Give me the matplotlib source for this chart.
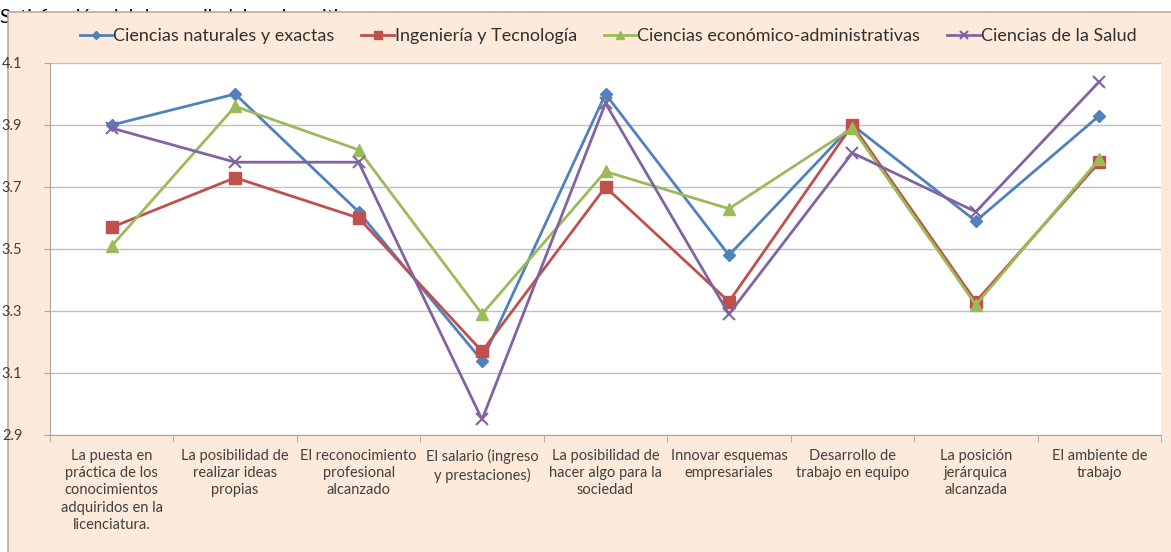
import numpy as np
import matplotlib
matplotlib.use("Agg")
import matplotlib.pyplot as plt
from matplotlib.patches import Rectangle

plt.rcParams['font.family'] = ['Lato', 'DejaVu Sans']

categories = ['La puesta en\npráctica de los\nconocimientos\nadquiridos en la\nlicenciatura.',
              'La posibilidad de\nrealizar ideas\npropias',
              'El reconocimiento\nprofesional\nalcanzado',
              'El salario (ingreso\ny prestaciones)',
              'La posibilidad de\nhacer algo para la\nsociedad',
              'Innovar esquemas\nempresariales',
              'Desarrollo de\ntrabajo en equipo',
              'La posición\njerárquica\nalcanzada',
              'El ambiente de\ntrabajo']
naturales = [3.90, 4.00, 3.62, 3.14, 4.00, 3.48, 3.90, 3.59, 3.93]
ingenieria = [3.57, 3.73, 3.60, 3.17, 3.70, 3.33, 3.90, 3.33, 3.78]
economico = [3.51, 3.96, 3.82, 3.29, 3.75, 3.63, 3.89, 3.32, 3.79]
salud = [3.89, 3.78, 3.78, 2.95, 3.97, 3.29, 3.81, 3.62, 4.04]
yticks = [2.9, 3.1, 3.3, 3.5, 3.7, 3.9, 4.1]

W, H = 1171, 552
fig = plt.figure(figsize=(W / 100, H / 100), dpi=100)
fig.patch.set_facecolor('white')

# text of the page behind the chart, mostly hidden
fig.text(0, 1 - 23 / H, 'Satisfacción del desarrollo laboral positivo', fontsize=14,
         color='black', va='baseline', ha='left', zorder=0)
# chart area
fig.patches.append(Rectangle((8 / W, -0.01), 1.0, (H - 12) / H + 0.01, transform=fig.transFigure,
                             facecolor='#FDEADA', edgecolor='#BFA898', lw=1.2, zorder=1))

ax = fig.add_axes([50 / W, 1 - 435 / H, (1161 - 50) / W, (435 - 63) / H])
ax.set_zorder(2)
ax.set_facecolor('white')
x = np.arange(len(categories))

ax.plot(x, naturales, color='#4F81BD', lw=2, marker='D', ms=6, label='Ciencias naturales y exactas')
ax.plot(x, ingenieria, color='#C0504D', lw=2, marker='s', ms=8, label='Ingeniería y Tecnología')
ax.plot(x, economico, color='#9BBB59', lw=2, marker='^', ms=8, label='Ciencias económico-administrativas')
ax.plot(x, salud, color='#8064A2', lw=2, marker='x', ms=8, mew=1.5, label='Ciencias de la Salud')

ax.set_xlim(-0.5, len(categories) - 0.5)
ax.set_ylim(2.9, 4.1)
ax.set_yticks(yticks)
ax.set_yticklabels(['{:.1f}'.format(v) for v in yticks])
ax.set_xticks(x)
ax.set_xticklabels(categories, fontsize=10.5, color='#404040', va='top', linespacing=1.3)
ax.set_xticks(np.arange(len(categories) + 1) - 0.5, minor=True)
ax.tick_params(axis='x', which='major', length=0, pad=10)
ax.tick_params(axis='x', which='minor', length=5, color='#A6A6A6', direction='out')
ax.tick_params(axis='y', length=4, color='#A6A6A6', pad=16, labelsize=10.5, labelcolor='#404040')
ax.grid(axis='y', color='#BFBFBF', lw=1)
ax.set_axisbelow(True)
for s in ['top', 'right']:
    ax.spines[s].set_visible(False)
ax.spines['left'].set_color('#A6A6A6')
ax.spines['bottom'].set_color('#A6A6A6')

fig.legend(loc='center', bbox_to_anchor=(608 / W, 1 - 36 / H), ncol=4, frameon=False,
           fontsize=13, handlelength=1.8, handletextpad=0.05, columnspacing=1.5,
           labelcolor='#303030', markerscale=0.7)

fig.savefig('out.png', dpi=100, facecolor=fig.get_facecolor())
